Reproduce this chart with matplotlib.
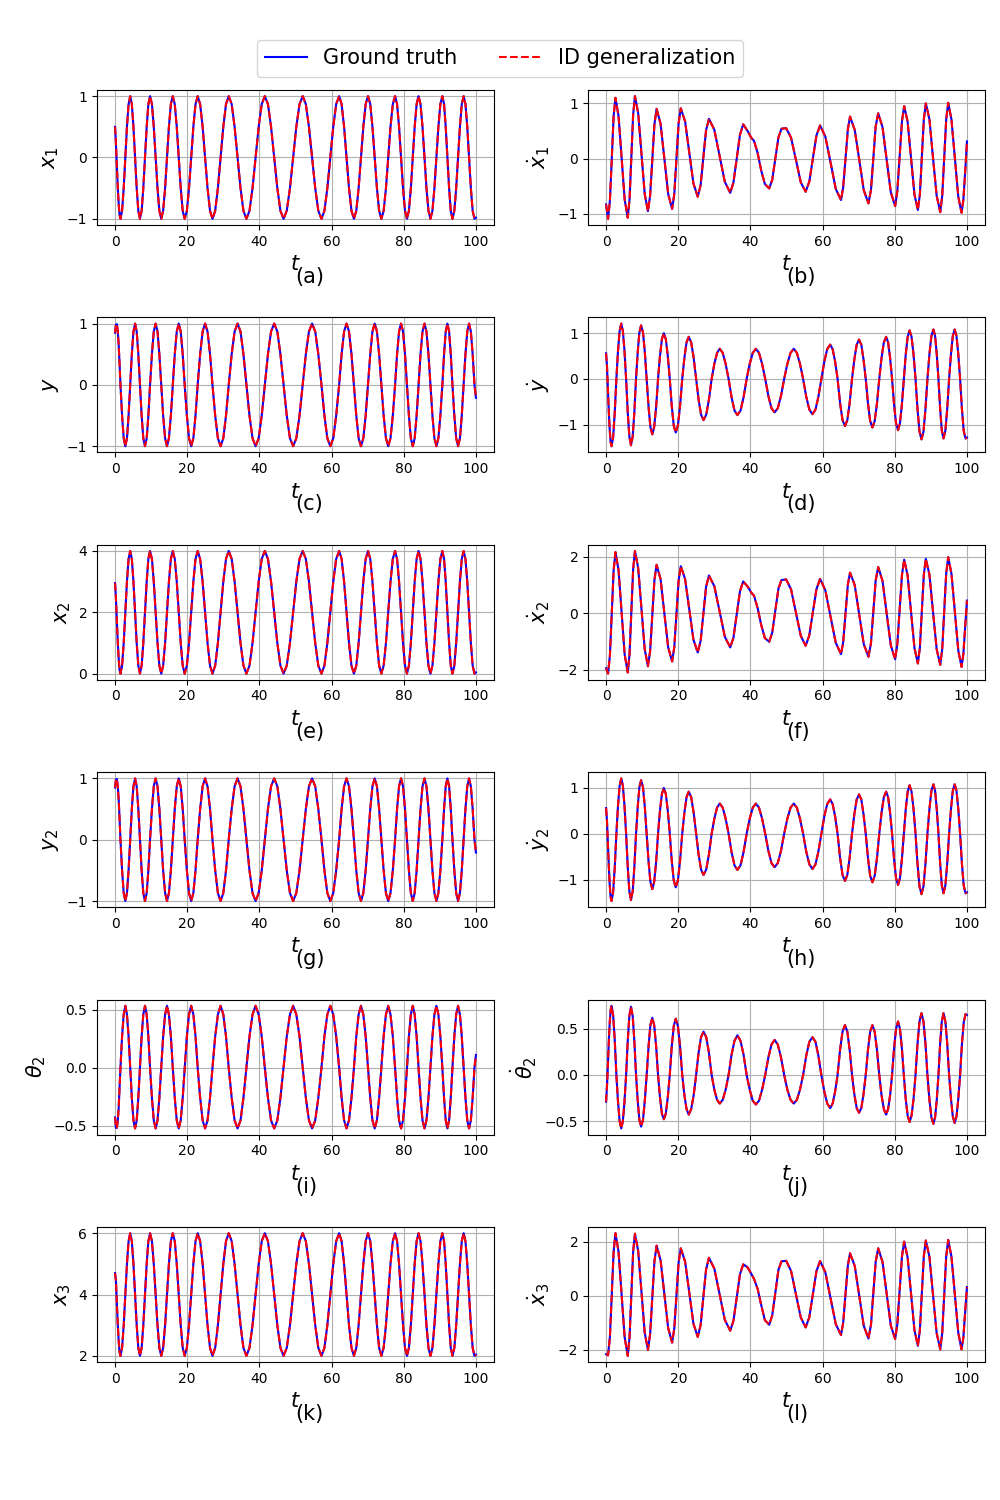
import matplotlib
matplotlib.use("Agg")
import matplotlib.pyplot as plt
from matplotlib.lines import Line2D

# ---------------- data ----------------
# time samples shared by x1, y, x2, y2, theta2, x3, y-dot, y2-dot, theta2-dot
t_x = [0, 0.25, 0.5, 0.75, 1.0, 1.25, 1.5,
       1.95, 2.4, 2.85, 3.3, 3.75, 4.2,
       4.65, 5.1, 5.55, 6.0, 6.45, 6.9,
       7.37, 7.83, 8.3, 8.77, 9.23, 9.7,
       10.22, 10.73, 11.25, 11.77, 12.28, 12.8,
       13.33, 13.87, 14.4, 14.93, 15.47, 16.0,
       16.55, 17.1, 17.65, 18.2, 18.75, 19.3,
       19.9, 20.5, 21.1, 21.7, 22.3, 22.9,
       23.58, 24.27, 24.95, 25.63, 26.32, 27.0,
       27.75, 28.5, 29.25, 30.0, 30.75, 31.5,
       32.32, 33.13, 33.95, 34.77, 35.58, 36.4,
       37.25, 38.1, 38.95, 39.8, 40.65, 41.5,
       42.37, 43.23, 44.1, 44.97, 45.83, 46.7,
       47.58, 48.47, 49.35, 50.23, 51.12, 52.0,
       52.87, 53.73, 54.6, 55.47, 56.33, 57.2,
       58.02, 58.83, 59.65, 60.47, 61.28, 62.1,
       62.78, 63.47, 64.15, 64.83, 65.52, 66.2,
       66.85, 67.5, 68.15, 68.8, 69.45, 70.1,
       70.72, 71.33, 71.95, 72.57, 73.18, 73.8,
       74.43, 75.07, 75.7, 76.33, 76.97, 77.6,
       78.15, 78.7, 79.25, 79.8, 80.35, 80.9,
       81.43, 81.97, 82.5, 83.03, 83.57, 84.1,
       84.65, 85.2, 85.75, 86.3, 86.85, 87.4,
       87.95, 88.5, 89.05, 89.6, 90.15, 90.7,
       91.17, 91.63, 92.1, 92.57, 93.03, 93.5,
       94.02, 94.53, 95.05, 95.57, 96.08, 96.6,
       97.1, 97.6, 98.1, 98.6, 99.1, 99.6,
       100]

x1_vals = [0.50, 0.22, -0.14, -0.48, -0.75, -0.94, -1.00,
           -0.87, -0.50, 0.00, 0.50, 0.87, 1.00,
           0.87, 0.50, 0.00, -0.50, -0.87, -1.00,
           -0.87, -0.50, 0.00, 0.50, 0.87, 1.00,
           0.87, 0.50, 0.00, -0.50, -0.87, -1.00,
           -0.87, -0.50, 0.00, 0.50, 0.87, 1.00,
           0.87, 0.50, 0.00, -0.50, -0.87, -1.00,
           -0.87, -0.50, 0.00, 0.50, 0.87, 1.00,
           0.87, 0.50, 0.00, -0.50, -0.87, -1.00,
           -0.87, -0.50, 0.00, 0.50, 0.87, 1.00,
           0.87, 0.50, 0.00, -0.50, -0.87, -1.00,
           -0.87, -0.50, 0.00, 0.50, 0.87, 1.00,
           0.87, 0.50, 0.00, -0.50, -0.87, -1.00,
           -0.87, -0.50, 0.00, 0.50, 0.87, 1.00,
           0.87, 0.50, 0.00, -0.50, -0.87, -1.00,
           -0.87, -0.50, 0.00, 0.50, 0.87, 1.00,
           0.87, 0.50, 0.00, -0.50, -0.87, -1.00,
           -0.87, -0.50, 0.00, 0.50, 0.87, 1.00,
           0.87, 0.50, 0.00, -0.50, -0.87, -1.00,
           -0.87, -0.50, 0.00, 0.50, 0.87, 1.00,
           0.87, 0.50, 0.00, -0.50, -0.87, -1.00,
           -0.87, -0.50, 0.00, 0.50, 0.87, 1.00,
           0.87, 0.50, 0.00, -0.50, -0.87, -1.00,
           -0.87, -0.50, 0.00, 0.50, 0.87, 1.00,
           0.87, 0.50, 0.00, -0.50, -0.87, -1.00,
           -0.87, -0.50, 0.00, 0.50, 0.87, 1.00,
           0.87, 0.50, 0.00, -0.50, -0.87, -1.00,
           -0.98]

y_vals = [0.85, 0.98, 0.99, 0.88, 0.66, 0.35, 0.00,
          -0.50, -0.87, -1.00, -0.87, -0.50, 0.00,
          0.50, 0.87, 1.00, 0.87, 0.50, 0.00,
          -0.50, -0.87, -1.00, -0.87, -0.50, 0.00,
          0.50, 0.87, 1.00, 0.87, 0.50, 0.00,
          -0.50, -0.87, -1.00, -0.87, -0.50, 0.00,
          0.50, 0.87, 1.00, 0.87, 0.50, 0.00,
          -0.50, -0.87, -1.00, -0.87, -0.50, 0.00,
          0.50, 0.87, 1.00, 0.87, 0.50, 0.00,
          -0.50, -0.87, -1.00, -0.87, -0.50, 0.00,
          0.50, 0.87, 1.00, 0.87, 0.50, 0.00,
          -0.50, -0.87, -1.00, -0.87, -0.50, 0.00,
          0.50, 0.87, 1.00, 0.87, 0.50, 0.00,
          -0.50, -0.87, -1.00, -0.87, -0.50, 0.00,
          0.50, 0.87, 1.00, 0.87, 0.50, 0.00,
          -0.50, -0.87, -1.00, -0.87, -0.50, 0.00,
          0.50, 0.87, 1.00, 0.87, 0.50, 0.00,
          -0.50, -0.87, -1.00, -0.87, -0.50, 0.00,
          0.50, 0.87, 1.00, 0.87, 0.50, 0.00,
          -0.50, -0.87, -1.00, -0.87, -0.50, 0.00,
          0.50, 0.87, 1.00, 0.87, 0.50, 0.00,
          -0.50, -0.87, -1.00, -0.87, -0.50, 0.00,
          0.50, 0.87, 1.00, 0.87, 0.50, 0.00,
          -0.50, -0.87, -1.00, -0.87, -0.50, 0.00,
          0.50, 0.87, 1.00, 0.87, 0.50, 0.00,
          -0.50, -0.87, -1.00, -0.87, -0.50, 0.00,
          0.50, 0.87, 1.00, 0.87, 0.50, 0.00,
          -0.21]

x2_vals = [2.95, 2.44, 1.72, 1.04, 0.50, 0.12, 0.00,
           0.26, 1.00, 2.00, 3.00, 3.74, 4.00,
           3.74, 3.00, 2.00, 1.00, 0.26, 0.00,
           0.26, 1.00, 2.00, 3.00, 3.74, 4.00,
           3.74, 3.00, 2.00, 1.00, 0.26, 0.00,
           0.26, 1.00, 2.00, 3.00, 3.74, 4.00,
           3.74, 3.00, 2.00, 1.00, 0.26, 0.00,
           0.26, 1.00, 2.00, 3.00, 3.74, 4.00,
           3.74, 3.00, 2.00, 1.00, 0.26, 0.00,
           0.26, 1.00, 2.00, 3.00, 3.74, 4.00,
           3.74, 3.00, 2.00, 1.00, 0.26, 0.00,
           0.26, 1.00, 2.00, 3.00, 3.74, 4.00,
           3.74, 3.00, 2.00, 1.00, 0.26, 0.00,
           0.26, 1.00, 2.00, 3.00, 3.74, 4.00,
           3.74, 3.00, 2.00, 1.00, 0.26, 0.00,
           0.26, 1.00, 2.00, 3.00, 3.74, 4.00,
           3.74, 3.00, 2.00, 1.00, 0.26, 0.00,
           0.26, 1.00, 2.00, 3.00, 3.74, 4.00,
           3.74, 3.00, 2.00, 1.00, 0.26, 0.00,
           0.26, 1.00, 2.00, 3.00, 3.74, 4.00,
           3.74, 3.00, 2.00, 1.00, 0.26, 0.00,
           0.26, 1.00, 2.00, 3.00, 3.74, 4.00,
           3.74, 3.00, 2.00, 1.00, 0.26, 0.00,
           0.26, 1.00, 2.00, 3.00, 3.74, 4.00,
           3.74, 3.00, 2.00, 1.00, 0.26, 0.00,
           0.26, 1.00, 2.00, 3.00, 3.74, 4.00,
           3.74, 3.00, 2.00, 1.00, 0.26, 0.00,
           0.04]

y2_vals = [0.85, 0.98, 0.99, 0.88, 0.66, 0.35, 0.00,
           -0.50, -0.87, -1.00, -0.87, -0.50, 0.00,
           0.50, 0.87, 1.00, 0.87, 0.50, 0.00,
           -0.50, -0.87, -1.00, -0.87, -0.50, 0.00,
           0.50, 0.87, 1.00, 0.87, 0.50, 0.00,
           -0.50, -0.87, -1.00, -0.87, -0.50, 0.00,
           0.50, 0.87, 1.00, 0.87, 0.50, 0.00,
           -0.50, -0.87, -1.00, -0.87, -0.50, 0.00,
           0.50, 0.87, 1.00, 0.87, 0.50, 0.00,
           -0.50, -0.87, -1.00, -0.87, -0.50, 0.00,
           0.50, 0.87, 1.00, 0.87, 0.50, 0.00,
           -0.50, -0.87, -1.00, -0.87, -0.50, 0.00,
           0.50, 0.87, 1.00, 0.87, 0.50, 0.00,
           -0.50, -0.87, -1.00, -0.87, -0.50, 0.00,
           0.50, 0.87, 1.00, 0.87, 0.50, 0.00,
           -0.50, -0.87, -1.00, -0.87, -0.50, 0.00,
           0.50, 0.87, 1.00, 0.87, 0.50, 0.00,
           -0.50, -0.87, -1.00, -0.87, -0.50, 0.00,
           0.50, 0.87, 1.00, 0.87, 0.50, 0.00,
           -0.50, -0.87, -1.00, -0.87, -0.50, 0.00,
           0.50, 0.87, 1.00, 0.87, 0.50, 0.00,
           -0.50, -0.87, -1.00, -0.87, -0.50, 0.00,
           0.50, 0.87, 1.00, 0.87, 0.50, 0.00,
           -0.50, -0.87, -1.00, -0.87, -0.50, 0.00,
           0.50, 0.87, 1.00, 0.87, 0.50, 0.00,
           -0.50, -0.87, -1.00, -0.87, -0.50, 0.00,
           0.50, 0.87, 1.00, 0.87, 0.50, 0.00,
           -0.21]

th2_vals = [-0.43, -0.52, -0.52, -0.46, -0.35, -0.18, 0.00,
            0.27, 0.46, 0.535, 0.46, 0.27, 0.00,
            -0.26, -0.455, -0.525, -0.455, -0.26, 0.00,
            0.27, 0.46, 0.535, 0.46, 0.27, 0.00,
            -0.26, -0.455, -0.525, -0.455, -0.26, 0.00,
            0.27, 0.46, 0.535, 0.46, 0.27, 0.00,
            -0.26, -0.455, -0.525, -0.455, -0.26, 0.00,
            0.27, 0.46, 0.535, 0.46, 0.27, 0.00,
            -0.26, -0.455, -0.525, -0.455, -0.26, 0.00,
            0.27, 0.46, 0.535, 0.46, 0.27, 0.00,
            -0.26, -0.455, -0.525, -0.455, -0.26, 0.00,
            0.27, 0.46, 0.535, 0.46, 0.27, 0.00,
            -0.26, -0.455, -0.525, -0.455, -0.26, 0.00,
            0.27, 0.46, 0.535, 0.46, 0.27, 0.00,
            -0.26, -0.455, -0.525, -0.455, -0.26, 0.00,
            0.27, 0.46, 0.535, 0.46, 0.27, 0.00,
            -0.26, -0.455, -0.525, -0.455, -0.26, 0.00,
            0.27, 0.46, 0.535, 0.46, 0.27, 0.00,
            -0.26, -0.455, -0.525, -0.455, -0.26, 0.00,
            0.27, 0.46, 0.535, 0.46, 0.27, 0.00,
            -0.26, -0.455, -0.525, -0.455, -0.26, 0.00,
            0.27, 0.46, 0.535, 0.46, 0.27, 0.00,
            -0.26, -0.455, -0.525, -0.455, -0.26, 0.00,
            0.27, 0.46, 0.535, 0.46, 0.27, 0.00,
            -0.26, -0.455, -0.525, -0.455, -0.26, 0.00,
            0.27, 0.46, 0.535, 0.46, 0.27, 0.00,
            -0.26, -0.455, -0.525, -0.455, -0.26, 0.00,
            0.11]

x3_vals = [4.70, 4.44, 3.72, 3.04, 2.50, 2.12, 2.00,
           2.26, 3.00, 4.00, 5.00, 5.74, 6.00,
           5.74, 5.00, 4.00, 3.00, 2.26, 2.00,
           2.26, 3.00, 4.00, 5.00, 5.74, 6.00,
           5.74, 5.00, 4.00, 3.00, 2.26, 2.00,
           2.26, 3.00, 4.00, 5.00, 5.74, 6.00,
           5.74, 5.00, 4.00, 3.00, 2.26, 2.00,
           2.26, 3.00, 4.00, 5.00, 5.74, 6.00,
           5.74, 5.00, 4.00, 3.00, 2.26, 2.00,
           2.26, 3.00, 4.00, 5.00, 5.74, 6.00,
           5.74, 5.00, 4.00, 3.00, 2.26, 2.00,
           2.26, 3.00, 4.00, 5.00, 5.74, 6.00,
           5.74, 5.00, 4.00, 3.00, 2.26, 2.00,
           2.26, 3.00, 4.00, 5.00, 5.74, 6.00,
           5.74, 5.00, 4.00, 3.00, 2.26, 2.00,
           2.26, 3.00, 4.00, 5.00, 5.74, 6.00,
           5.74, 5.00, 4.00, 3.00, 2.26, 2.00,
           2.26, 3.00, 4.00, 5.00, 5.74, 6.00,
           5.74, 5.00, 4.00, 3.00, 2.26, 2.00,
           2.26, 3.00, 4.00, 5.00, 5.74, 6.00,
           5.74, 5.00, 4.00, 3.00, 2.26, 2.00,
           2.26, 3.00, 4.00, 5.00, 5.74, 6.00,
           5.74, 5.00, 4.00, 3.00, 2.26, 2.00,
           2.26, 3.00, 4.00, 5.00, 5.74, 6.00,
           5.74, 5.00, 4.00, 3.00, 2.26, 2.00,
           2.26, 3.00, 4.00, 5.00, 5.74, 6.00,
           5.74, 5.00, 4.00, 3.00, 2.26, 2.00,
           2.04]

ydot_vals = [0.56, 0.28, -0.20, -0.70, -1.10, -1.38, -1.47,
             -1.28, -0.74, 0.00, 0.61, 1.05, 1.21,
             1.05, 0.61, 0.00, -0.73, -1.26, -1.45,
             -1.26, -0.73, 0.00, 0.59, 1.02, 1.17,
             1.02, 0.59, 0.00, -0.61, -1.05, -1.21,
             -1.05, -0.61, 0.00, 0.50, 0.87, 1.00,
             0.87, 0.50, 0.00, -0.59, -1.02, -1.17,
             -1.02, -0.59, 0.00, 0.46, 0.80, 0.92,
             0.80, 0.46, 0.00, -0.45, -0.78, -0.90,
             -0.78, -0.45, 0.00, 0.33, 0.57, 0.66,
             0.57, 0.33, 0.00, -0.40, -0.69, -0.79,
             -0.69, -0.40, 0.00, 0.33, 0.57, 0.66,
             0.57, 0.33, 0.00, -0.37, -0.64, -0.73,
             -0.64, -0.37, 0.00, 0.33, 0.57, 0.66,
             0.57, 0.33, 0.00, -0.39, -0.67, -0.77,
             -0.67, -0.39, 0.00, 0.38, 0.65, 0.75,
             0.65, 0.38, 0.00, -0.52, -0.90, -1.03,
             -0.90, -0.52, 0.00, 0.43, 0.75, 0.86,
             0.75, 0.43, 0.00, -0.53, -0.92, -1.06,
             -0.92, -0.53, 0.00, 0.46, 0.80, 0.92,
             0.80, 0.46, 0.00, -0.56, -0.97, -1.12,
             -0.97, -0.56, 0.00, 0.53, 0.92, 1.06,
             0.92, 0.53, 0.00, -0.66, -1.15, -1.32,
             -1.15, -0.66, 0.00, 0.54, 0.94, 1.08,
             0.94, 0.54, 0.00, -0.65, -1.13, -1.30,
             -1.13, -0.65, 0.00, 0.54, 0.94, 1.08,
             0.94, 0.54, 0.00, -0.65, -1.13, -1.30,
             -1.28]

y2dot_vals = [0.56, 0.28, -0.20, -0.70, -1.10, -1.38, -1.47,
              -1.28, -0.74, 0.00, 0.61, 1.05, 1.21,
              1.05, 0.61, 0.00, -0.73, -1.26, -1.45,
              -1.26, -0.73, 0.00, 0.59, 1.02, 1.17,
              1.02, 0.59, 0.00, -0.61, -1.05, -1.21,
              -1.05, -0.61, 0.00, 0.50, 0.87, 1.00,
              0.87, 0.50, 0.00, -0.59, -1.02, -1.17,
              -1.02, -0.59, 0.00, 0.46, 0.80, 0.92,
              0.80, 0.46, 0.00, -0.45, -0.78, -0.90,
              -0.78, -0.45, 0.00, 0.33, 0.57, 0.66,
              0.57, 0.33, 0.00, -0.40, -0.69, -0.79,
              -0.69, -0.40, 0.00, 0.33, 0.57, 0.66,
              0.57, 0.33, 0.00, -0.37, -0.64, -0.73,
              -0.64, -0.37, 0.00, 0.33, 0.57, 0.66,
              0.57, 0.33, 0.00, -0.39, -0.67, -0.77,
              -0.67, -0.39, 0.00, 0.38, 0.65, 0.75,
              0.65, 0.38, 0.00, -0.52, -0.90, -1.03,
              -0.90, -0.52, 0.00, 0.43, 0.75, 0.86,
              0.75, 0.43, 0.00, -0.53, -0.92, -1.06,
              -0.92, -0.53, 0.00, 0.46, 0.80, 0.92,
              0.80, 0.46, 0.00, -0.56, -0.97, -1.12,
              -0.97, -0.56, 0.00, 0.53, 0.92, 1.06,
              0.92, 0.53, 0.00, -0.66, -1.15, -1.32,
              -1.15, -0.66, 0.00, 0.54, 0.94, 1.08,
              0.94, 0.54, 0.00, -0.65, -1.13, -1.30,
              -1.13, -0.65, 0.00, 0.54, 0.94, 1.08,
              0.94, 0.54, 0.00, -0.65, -1.13, -1.30,
              -1.28]

th2dot_vals = [-0.29, -0.12, 0.10, 0.36, 0.56, 0.70, 0.75,
               0.65, 0.38, 0.00, -0.29, -0.50, -0.58,
               -0.50, -0.29, 0.00, 0.37, 0.64, 0.74,
               0.64, 0.37, 0.00, -0.28, -0.49, -0.56,
               -0.49, -0.28, 0.00, 0.31, 0.54, 0.62,
               0.54, 0.31, 0.00, -0.24, -0.42, -0.48,
               -0.42, -0.24, 0.00, 0.31, 0.53, 0.61,
               0.53, 0.31, 0.00, -0.22, -0.37, -0.43,
               -0.37, -0.22, 0.00, 0.24, 0.41, 0.47,
               0.41, 0.24, 0.00, -0.16, -0.27, -0.31,
               -0.27, -0.16, 0.00, 0.22, 0.37, 0.43,
               0.37, 0.22, 0.00, -0.16, -0.28, -0.32,
               -0.28, -0.16, 0.00, 0.19, 0.33, 0.38,
               0.33, 0.19, 0.00, -0.16, -0.27, -0.31,
               -0.27, -0.16, 0.00, 0.21, 0.36, 0.41,
               0.36, 0.21, 0.00, -0.18, -0.31, -0.36,
               -0.31, -0.18, 0.00, 0.27, 0.47, 0.54,
               0.47, 0.27, 0.00, -0.21, -0.36, -0.41,
               -0.36, -0.21, 0.00, 0.27, 0.47, 0.54,
               0.47, 0.27, 0.00, -0.22, -0.37, -0.43,
               -0.37, -0.22, 0.00, 0.29, 0.50, 0.58,
               0.50, 0.29, 0.00, -0.26, -0.44, -0.51,
               -0.44, -0.26, 0.00, 0.34, 0.58, 0.67,
               0.58, 0.34, 0.00, -0.27, -0.46, -0.53,
               -0.46, -0.27, 0.00, 0.34, 0.58, 0.67,
               0.58, 0.34, 0.00, -0.26, -0.45, -0.52,
               -0.45, -0.26, 0.00, 0.33, 0.57, 0.66,
               0.65]

# time samples for the x-velocity signals (their own extrema and points between)
t_xd = [0, 0.3, 0.55,
        1.06, 1.58, 2.09, 2.6,
        3.45, 4.3, 5.15, 6.0,
        6.5, 7.0, 7.5, 8.0,
        8.9, 9.8, 10.7, 11.6,
        12.2, 12.8, 13.4, 14.0,
        15.1, 16.15, 17.2, 18.3,
        18.9, 19.5, 20.1, 20.7,
        21.9, 23.05, 24.2, 25.4,
        26.2, 26.95, 27.7, 28.5,
        30.0, 31.45, 32.9, 34.4,
        35.3, 36.2, 37.1, 38.0,
        39.2, 40.2, 41.0, 42.0, 43.0, 44.0, 45.2,
        46.05, 46.9, 47.75, 48.6, 49.9,
        51.25, 52.6, 53.95, 55.3,
        56.3, 57.3, 58.3, 59.3,
        60.75, 62.2, 63.65, 65.1,
        65.7, 66.35, 67.0, 67.6,
        68.9, 70.15, 71.4, 72.7,
        73.4, 74.05, 74.7, 75.4,
        76.6, 77.75, 78.9, 80.1,
        80.7, 81.35, 82.0, 82.6,
        83.55, 84.5, 85.45, 86.4,
        86.95, 87.5, 88.05, 88.6,
        89.6, 90.6, 91.6, 92.6,
        93.15, 93.7, 94.25, 94.8,
        95.7, 96.65, 97.6, 98.5,
        99.0, 99.5, 100]

x1dot_vals = [-0.83, -0.98, -1.09,
              -0.76, 0.00, 0.77, 1.10,
              0.77, 0.02, -0.74, -1.07,
              -0.74, 0.03, 0.80, 1.13,
              0.82, 0.09, -0.64, -0.95,
              -0.67, -0.03, 0.62, 0.90,
              0.63, 0.00, -0.64, -0.91,
              -0.64, 0.00, 0.64, 0.91,
              0.67, 0.11, -0.45, -0.69,
              -0.48, 0.02, 0.51, 0.72,
              0.52, 0.05, -0.42, -0.62,
              -0.43, 0.00, 0.43, 0.62,
              0.50, 0.38, 0.32, 0.10, -0.22, -0.46, -0.54,
              -0.38, 0.00, 0.38, 0.54, 0.55,
              0.38, -0.02, -0.43, -0.60,
              -0.42, 0.00, 0.42, 0.60,
              0.40, -0.07, -0.55, -0.75,
              -0.52, 0.00, 0.53, 0.76,
              0.52, -0.02, -0.57, -0.81,
              -0.57, 0.00, 0.58, 0.82,
              0.57, -0.02, -0.61, -0.86,
              -0.59, 0.04, 0.68, 0.95,
              0.67, 0.01, -0.65, -0.93,
              -0.65, 0.03, 0.71, 1.00,
              0.71, 0.01, -0.67, -0.97,
              -0.67, 0.02, 0.71, 1.01,
              0.71, 0.01, -0.69, -0.98,
              -0.75, -0.25, 0.31]

x2dot_vals = [-1.95, -2.05, -2.14,
              -1.49, 0.02, 1.52, 2.17,
              1.53, 0.04, -1.46, -2.10,
              -1.45, 0.06, 1.56, 2.21,
              1.60, 0.17, -1.27, -1.88,
              -1.34, -0.08, 1.18, 1.72,
              1.21, 0.00, -1.20, -1.71,
              -1.20, -0.02, 1.16, 1.67,
              1.21, 0.14, -0.93, -1.39,
              -0.98, -0.03, 0.93, 1.34,
              0.96, 0.07, -0.83, -1.21,
              -0.86, -0.04, 0.78, 1.13,
              0.95, 0.74, 0.62, 0.18, -0.42, -0.88, -1.01,
              -0.68, 0.10, 0.87, 1.18, 1.20,
              0.85, 0.03, -0.80, -1.15,
              -0.79, 0.04, 0.86, 1.22,
              0.82, -0.12, -1.05, -1.45,
              -1.03, 0.00, 1.02, 1.44,
              1.00, -0.05, -1.09, -1.54,
              -1.06, 0.05, 1.16, 1.64,
              1.15, 0.00, -1.14, -1.63,
              -1.10, 0.14, 1.37, 1.90,
              1.35, 0.06, -1.23, -1.78,
              -1.22, 0.08, 1.37, 1.93,
              1.37, 0.05, -1.27, -1.83,
              -1.26, 0.08, 1.42, 1.99,
              1.41, 0.05, -1.32, -1.90,
              -1.45, -0.50, 0.45]

x3dot_vals = [-2.16, -2.18, -2.20,
              -1.52, 0.06, 1.63, 2.31,
              1.63, 0.05, -1.54, -2.22,
              -1.54, 0.04, 1.63, 2.29,
              1.65, 0.15, -1.36, -2.00,
              -1.42, -0.08, 1.27, 1.85,
              1.31, 0.06, -1.19, -1.73,
              -1.21, 0.01, 1.23, 1.75,
              1.26, 0.12, -1.03, -1.52,
              -1.08, -0.06, 0.96, 1.40,
              1.00, 0.06, -0.89, -1.29,
              -0.92, -0.07, 0.79, 1.16,
              1.05, 0.82, 0.62, 0.25, -0.35, -0.90, -1.07,
              -0.72, 0.11, 0.95, 1.27, 1.29,
              0.92, 0.06, -0.80, -1.17,
              -0.80, 0.05, 0.91, 1.28,
              0.87, -0.09, -1.05, -1.45,
              -1.00, 0.06, 1.12, 1.57,
              1.10, 0.00, -1.11, -1.58,
              -1.08, 0.09, 1.25, 1.75,
              1.25, 0.08, -1.10, -1.60,
              -1.06, 0.20, 1.46, 2.00,
              1.42, 0.08, -1.27, -1.85,
              -1.27, 0.10, 1.46, 2.04,
              1.44, 0.03, -1.38, -1.98,
              -1.37, 0.04, 1.45, 2.06,
              1.45, 0.04, -1.37, -1.98,
              -1.55, -0.60, 0.32]

y_labels = [r"$x_1$", r"$\dot{x}_1$", r"$y$", r"$\dot{y}$",
            r"$x_2$", r"$\dot{x}_2$", r"$y_2$", r"$\dot{y}_2$",
            r"$\theta_2$", r"$\dot{\theta}_2$", r"$x_3$", r"$\dot{x}_3$"]
panel_tags = ["(a)", "(b)", "(c)", "(d)", "(e)", "(f)",
              "(g)", "(h)", "(i)", "(j)", "(k)", "(l)"]
legend_labels = ["Ground truth", "ID generalization"]

panels = [(t_x, x1_vals), (t_xd, x1dot_vals),
          (t_x, y_vals), (t_x, ydot_vals),
          (t_x, x2_vals), (t_xd, x2dot_vals),
          (t_x, y2_vals), (t_x, y2dot_vals),
          (t_x, th2_vals), (t_x, th2dot_vals),
          (t_x, x3_vals), (t_xd, x3dot_vals)]

# ---------------- figure ----------------
fig, axes = plt.subplots(6, 2, figsize=(10, 15), dpi=100)
fig.subplots_adjust(left=0.097, right=0.985, top=0.94, bottom=0.092,
                    hspace=0.685, wspace=0.237)

for i, ax in enumerate(axes.flat):
    t, v = panels[i]
    ax.plot(t, v, color="blue", linestyle="-", linewidth=1.5)
    ax.plot(t, v, color="red", linestyle="--", linewidth=1.5)
    ax.grid(True)
    ax.set_xlabel(r"$t$", fontsize=15)
    ax.set_ylabel(y_labels[i], fontsize=15)
    ax.text(0.5, -0.385, panel_tags[i], transform=ax.transAxes,
            fontsize=15, ha="left", va="center")

handles = [Line2D([], [], color="blue", linestyle="-", linewidth=1.5),
           Line2D([], [], color="red", linestyle="--", linewidth=1.5)]
fig.legend(handles, legend_labels, loc="center", bbox_to_anchor=(0.5, 0.961),
           ncol=2, fontsize=15)

fig.savefig("out.png", dpi=100)
